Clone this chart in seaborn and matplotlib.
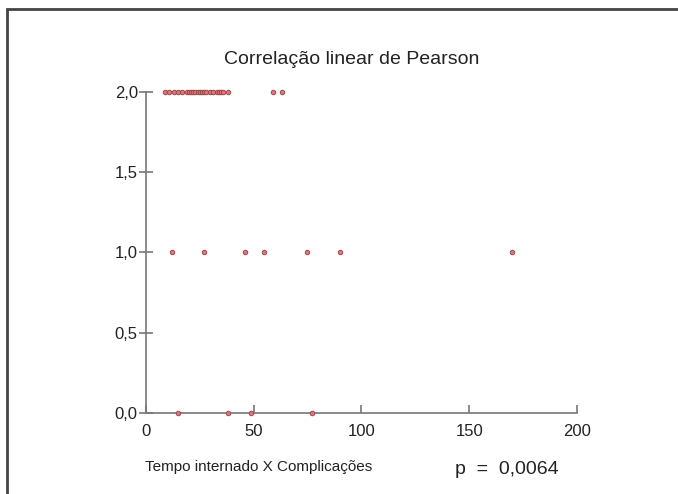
import numpy as np
import pandas as pd
import matplotlib
matplotlib.use("Agg")
import matplotlib.pyplot as plt
import seaborn as sns
from matplotlib.patches import Rectangle

# tempo internado (dias) por numero de complicacoes
tempo_2 = [9, 11, 13, 15, 17, 19, 20, 21, 22, 23, 24, 25, 26, 27, 28,
           30, 31, 33, 34, 35, 36, 38, 59, 63]
tempo_1 = [12, 27, 46, 55, 75, 90, 170]
tempo_0 = [15, 38, 49, 77]

x_ticks = [0, 50, 100, 150, 200]
y_ticks = [0.0, 0.5, 1.0, 1.5, 2.0]
y_labels = ["0,0", "0,5", "1,0", "1,5", "2,0"]

df = pd.DataFrame({
    "tempo": tempo_2 + tempo_1 + tempo_0,
    "complicacoes": [2.0] * len(tempo_2) + [1.0] * len(tempo_1) + [0.0] * len(tempo_0),
})

sns.set_style("white")
plt.rcParams['font.family'] = ['Liberation Sans', 'DejaVu Sans']

fig = plt.figure(figsize=(6.78, 4.94), dpi=100)
ax = fig.add_axes([0.215, 0.164, 0.636, 0.650])

sns.scatterplot(data=df, x="tempo", y="complicacoes", ax=ax,
                color="#e8707a", edgecolor="#8a4444", linewidth=0.6,
                s=11, clip_on=False, zorder=3)

ax.set_xlim(0, 200)
ax.set_ylim(0, 2.0)
ax.set_xticks(x_ticks)
ax.set_xticklabels([str(t) for t in x_ticks])
ax.set_yticks(y_ticks)
ax.set_yticklabels(y_labels)
ax.set_xlabel("")
ax.set_ylabel("")

for side in ["top", "right"]:
    ax.spines[side].set_visible(False)
for side in ["left", "bottom"]:
    ax.spines[side].set_color("#777777")
    ax.spines[side].set_linewidth(1.2)

ax.tick_params(axis="x", direction="in", length=6, width=1.2, color="#777777",
               labelsize=12, labelcolor="#222222", pad=8)
ax.tick_params(axis="y", direction="inout", length=9.5, width=1.2, color="#777777",
               labelsize=12, labelcolor="#222222", pad=1)
ax.tick_params(axis="x", bottom=True)
ax.tick_params(axis="y", left=True)

fig.text(0.518, 0.879, "Correlação linear de Pearson", ha="center", va="center",
         fontsize=14, color="#222222")
fig.text(0.214, 0.054, "Tempo internado X Complicações", ha="left", va="center",
         fontsize=11, color="#222222")
fig.text(0.671, 0.050, "p  =  0,0064", ha="left", va="center",
         fontsize=14, color="#222222")

# moldura (so as bordas esquerda e superior aparecem)
fig.patches.append(Rectangle((7 / 678, -0.1), 1.2, (494 - 9) / 494 + 0.1,
                             transform=fig.transFigure, fill=False,
                             edgecolor="#444444", linewidth=2))

fig.savefig("out.png", dpi=100)
